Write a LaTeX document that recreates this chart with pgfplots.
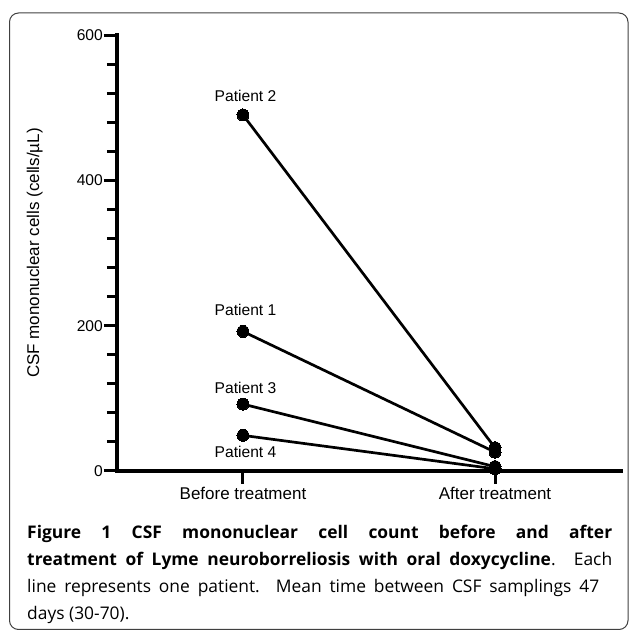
\documentclass[border=0pt]{standalone}
\usepackage{pgfplots}
\pgfplotsset{compat=1.18}
\usepackage{fontspec}
\setmainfont{Liberation Sans}
\newfontfamily\capfont{Open Sans}
\begin{document}
\begin{tikzpicture}[x=1pt,y=1pt]
\useasboundingbox (0,0) rectangle (629,630);
\draw[line width=1pt, black!75, rounded corners=9pt] (9.5,0.5) rectangle (628,617);
\begin{axis}[
  at={(117pt,159pt)}, anchor=south west,
  scale only axis, width=504pt, height=436pt,
  xmin=-0.5, xmax=1.5, ymin=0, ymax=600,
  clip=false,
  axis x line=bottom, axis y line=left,
  axis line style={-, line width=4.2pt, line cap=rect},
  xtick={0,1}, xticklabels={Before treatment, After treatment},
  ytick={0,200,400,600}, minor y tick num=4,
  tick align=outside,
  major tick length=13pt, minor tick length=10pt,
  every tick/.style={line width=3pt, black},
  /pgf/number format/assume math mode=true,
  yticklabel style={font=\fontsize{15.6}{18}\selectfont, inner sep=1pt},
  xticklabel style={font=\fontsize{17}{20}\selectfont},
  ylabel={CSF mononuclear cells (cells/µL)},
  ylabel style={at={(axis description cs:-0.163,0.5)}, anchor=center, font=\fontsize{17}{20}\selectfont},
  pat/.style={black, line width=2.7pt, mark=*, mark size=6pt, mark options={fill=black, line width=0pt}},
]
\addplot[pat] coordinates {(0,192) (1,26)};
\addplot[pat] coordinates {(0,490) (1,32)};
\addplot[pat] coordinates {(0,92) (1,6)};
\addplot[pat] coordinates {(0,49) (1,3)};
\node[font=\fontsize{15.6}{18}\selectfont] at (axis cs:0.01,516) {Patient 2};
\node[font=\fontsize{15.6}{18}\selectfont] at (axis cs:0.01,221.5) {Patient 1};
\node[font=\fontsize{15.6}{18}\selectfont] at (axis cs:0.01,114) {Patient 3};
\node[font=\fontsize{15.6}{18}\selectfont] at (axis cs:0.01,26) {Patient 4};
\end{axis}
\node[anchor=base west, inner sep=0, text width=585pt, align=justify,
      font=\capfont\fontsize{17.4}{26.7}\selectfont] at (27,91)
 {\textbf{Figure 1 CSF mononuclear cell count before and after\linebreak treatment of Lyme neuroborreliosis with oral doxycycline}. Each\linebreak line represents one patient. Mean time between CSF samplings 47\hspace*{13pt}\linebreak days (30-70).};
\end{tikzpicture}
\end{document}
